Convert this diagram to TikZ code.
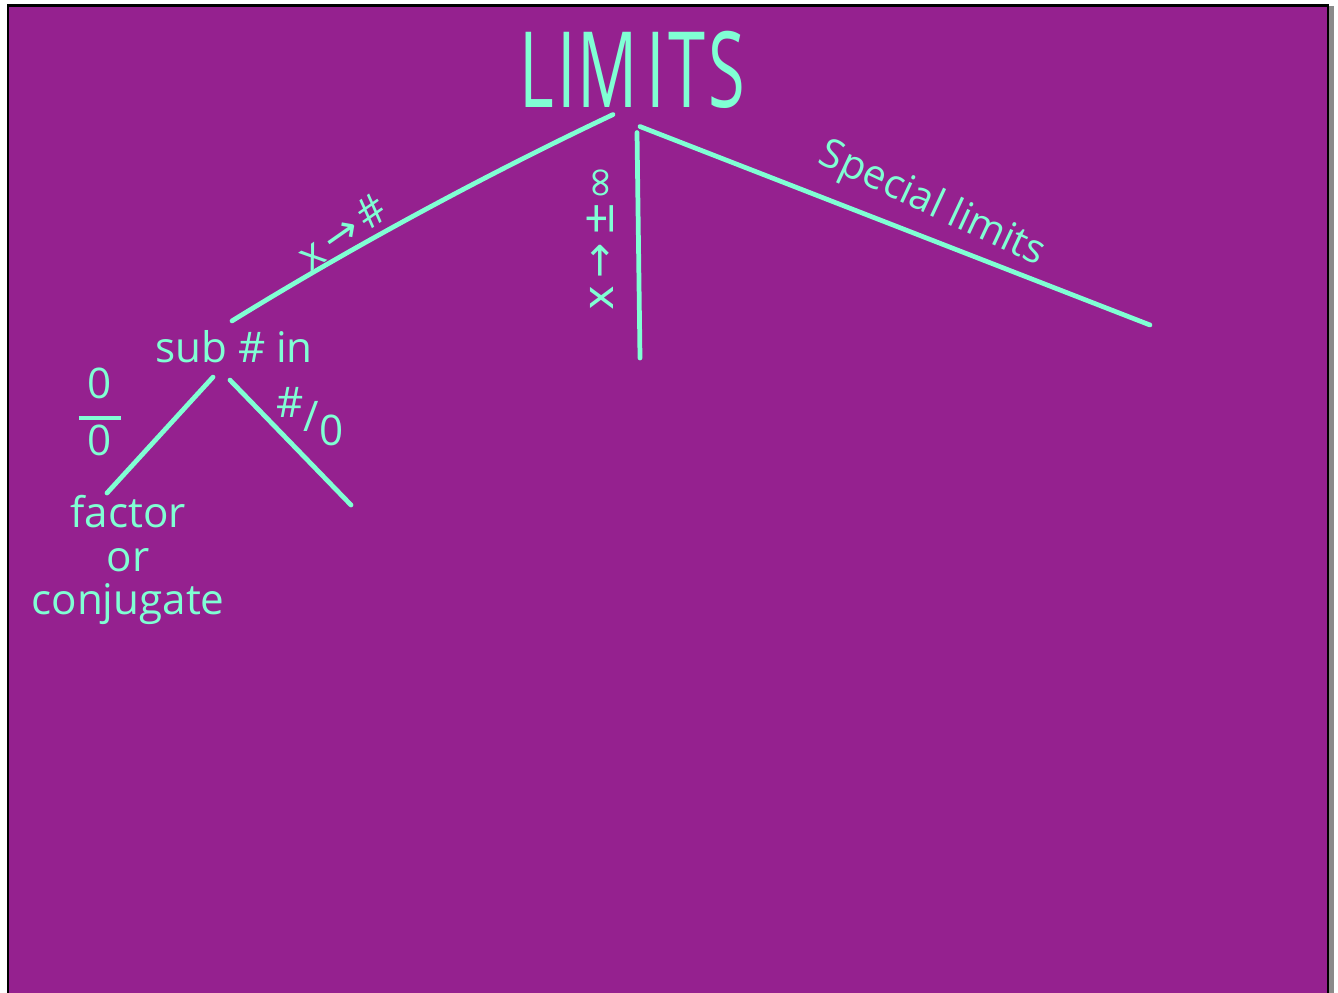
\documentclass[tikz,border=0pt]{standalone}
\usepackage{fontspec}
\usepackage{graphicx}
\setmainfont{Open Sans}
\newfontfamily\symfont{DejaVu Sans}
\usepackage{tikz}
\usetikzlibrary{calc}
\definecolor{cBoard}{HTML}{95218F}
\definecolor{cChalk}{HTML}{80FFD4}
\definecolor{cEdge}{HTML}{8A8A8A}
\newcommand{\arr}{{\symfont →}}
\tikzset{
  hand/.style={text=cChalk, inner sep=2pt, font=\fontsize{24}{27}\selectfont},
  handL/.style={hand, font=\fontsize{40}{44}\selectfont},
  ln/.style={draw=cChalk, line width=2.7pt, line cap=round}
}

\begin{document}
\begin{tikzpicture}[x=0.02cm, y=-0.02cm]
% board and frame
\useasboundingbox (0,0) rectangle (1338,993);
\fill[white] (0,0) rectangle (1338,993);
\fill[black] (7,4) rectangle (1329,993);
\fill[cEdge] (1329,6) rectangle (1334,993);
\fill[cBoard] (9,7) rectangle (1327,993);
% nodes
\node[handL] (lim) at (632,70) {\scalebox{0.95}[1.5]{L\kern2pt I\kern1pt M\kern5pt I\kern2pt T\kern2pt S}};
\node[hand] (sub) at (234,347) {sub \# in};
\node[hand, align=center, font=\fontsize{24}{25}\selectfont] (fac) at (128,560) {factor\\or\\conjugate};
\node[hand, align=center] (zz) at (100,412) {0\\[-11pt]\rule[4pt]{24pt}{2.4pt}\\[-11pt]0};
\node[hand] (nz) at (310,417) {\raisebox{5pt}{\#}\raisebox{-3pt}{/}\raisebox{-11pt}{0}};
\node[hand, rotate=35] (tnum) at (342,232) {x\,\arr\,\#};
\node[hand, rotate=90] (tinf) at (600,238) {{\symfont x\,→\,±∞}};
\node[hand, rotate=-25, font=\fontsize{23}{26}\selectfont] (tspec) at (932,205) {Special limits};
\coordinate (vEnd) at (640,358);
\coordinate (sEnd) at (1150,325);
\coordinate (dEnd) at (351,505);
% connectors
\draw[ln] ($(lim.south)+(-19,2)$) .. controls (585,128) and (420,205) .. ($(sub.north)+(-2,-6)$);
\draw[ln] ($(lim.south)+(5,20)$) -- (vEnd);
\draw[ln] ($(lim.south)+(8,14)$) -- (sEnd);
\draw[ln] ($(sub.south)+(-21,10)$) -- ($(fac.north)+(-21,2)$);
\draw[ln] ($(sub.south)+(-4,13)$) -- (dEnd);
\end{tikzpicture}
\end{document}
